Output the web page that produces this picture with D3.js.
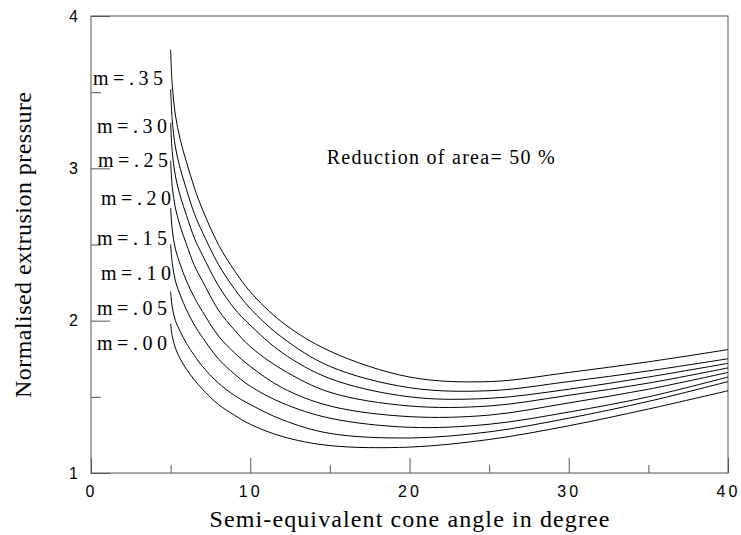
<!DOCTYPE html>
<html>
<head>
<meta charset="utf-8">
<script src="https://cdn.jsdelivr.net/npm/d3@7"></script>
<style>
  body { margin: 0; background: #fff; }
  svg { display: block; }
  .tick text { font-family: "Liberation Sans", Arial, sans-serif; font-size: 16px; fill: #000; }
  .axis path { display: none; }
  .axis line { stroke: #555; }
  .serif { font-family: "Liberation Serif", "Times New Roman", serif; fill: #000; }
</style>
</head>
<body>
<div id="chart"></div>
<script>

// semi-equivalent cone angle (deg)
var angle = [5, 5.1, 5.3, 5.6, 6, 6.5, 7, 8, 9, 10, 12, 15, 20, 25, 30, 35, 40];

// normalised extrusion pressure for each friction factor m
var p35 = [3.78, 3.55, 3.35, 3.19, 3.04, 2.87, 2.73, 2.50, 2.33, 2.19, 1.99, 1.80, 1.63, 1.60, 1.66, 1.73, 1.81];
var p30 = [3.52, 3.32, 3.14, 3.00, 2.86, 2.70, 2.58, 2.37, 2.21, 2.08, 1.89, 1.70, 1.56, 1.54, 1.60, 1.67, 1.75];
var p25 = [3.30, 3.11, 2.95, 2.82, 2.69, 2.54, 2.43, 2.23, 2.08, 1.97, 1.79, 1.62, 1.50, 1.49, 1.55, 1.63, 1.72];
var p20 = [3.05, 2.88, 2.74, 2.62, 2.50, 2.36, 2.26, 2.07, 1.94, 1.83, 1.68, 1.53, 1.44, 1.44, 1.51, 1.59, 1.69];
var p15 = [2.74, 2.60, 2.47, 2.37, 2.26, 2.15, 2.06, 1.90, 1.79, 1.70, 1.56, 1.44, 1.37, 1.38, 1.46, 1.55, 1.66];
var p10 = [2.50, 2.38, 2.26, 2.17, 2.07, 1.97, 1.89, 1.75, 1.65, 1.57, 1.46, 1.36, 1.30, 1.32, 1.40, 1.50, 1.63];
var p05 = [2.19, 2.09, 2.00, 1.93, 1.85, 1.77, 1.70, 1.59, 1.51, 1.45, 1.35, 1.26, 1.23, 1.27, 1.36, 1.47, 1.60];
var p00 = [1.98, 1.90, 1.82, 1.75, 1.68, 1.61, 1.55, 1.45, 1.38, 1.32, 1.24, 1.18, 1.17, 1.22, 1.31, 1.42, 1.54];

var series = [p35, p30, p25, p20, p15, p10, p05, p00];
var mLabels = ["m=.35", "m=.30", "m=.25", "m=.20", "m=.15", "m=.10", "m=.05", "m=.00"];
// label baselines in pressure units, read beside the curve starts
var labelY = [3.55, 3.23, 3.01, 2.76, 2.50, 2.27, 2.04, 1.81];

var xMajor = [0, 10, 20, 30, 40], xMinor = [5, 15, 25, 35];
var yMajor = [1, 2, 3, 4], yMinor = [1.5, 2.5, 3.5];

var W = 741, H = 535;
var margin = {top: 16, right: 13, bottom: 62, left: 91};
var width = W - margin.left - margin.right,
    height = H - margin.top - margin.bottom;

var svg = d3.select("#chart").append("svg")
    .attr("width", W)
    .attr("height", H);

var g = svg.append("g")
    .attr("transform", "translate(" + margin.left + "," + margin.top + ")");

var xScale = d3.scaleLinear().domain([0, 40]).range([0, width]);
var yScale = d3.scaleLinear().domain([1, 4]).range([height, 0]);

// x axis, ticks pointing inward
g.append("g")
    .attr("class", "axis")
    .attr("transform", "translate(0," + height + ")")
    .call(d3.axisBottom(xScale).tickValues(xMajor).tickSize(-15).tickPadding(13).tickFormat(d3.format("d")))
    .selectAll("text")
    .style("letter-spacing", "3px")
    .attr("dy", "0.71em");

g.append("g")
    .attr("class", "axis")
    .attr("transform", "translate(0," + height + ")")
    .call(d3.axisBottom(xScale).tickValues(xMinor).tickSize(-8).tickFormat(""));

// y axis
g.append("g")
    .attr("class", "axis")
    .call(d3.axisLeft(yScale).tickValues(yMajor).tickSize(-19).tickPadding(13).tickFormat(d3.format("d")));

g.append("g")
    .attr("class", "axis")
    .call(d3.axisLeft(yScale).tickValues(yMinor).tickSize(-10).tickFormat(""));

// frame
g.append("rect")
    .attr("width", width)
    .attr("height", height)
    .attr("fill", "none")
    .attr("stroke", "#555")
    .attr("stroke-width", 1);

var line = d3.line()
    .x(function(d, i) { return xScale(angle[i]); })
    .y(function(d) { return yScale(d); })
    .curve(d3.curveCatmullRom.alpha(0.5));

g.selectAll(".curve")
    .data(series)
    .enter().append("path")
    .attr("class", "curve")
    .attr("fill", "none")
    .attr("stroke", "#000")
    .attr("stroke-width", 1)
    .attr("d", line);

// m labels
g.selectAll(".mlabel")
    .data(mLabels)
    .enter().append("text")
    .attr("class", "mlabel serif")
    .attr("x", function(d, i) { return [2, 6, 7, 10, 6, 10, 6, 6][i]; })
    .attr("y", function(d, i) { return yScale(labelY[i]); })
    .attr("textLength", 70)
    .attr("lengthAdjust", "spacing")
    .style("font-size", "20px")
    .text(function(d) { return d; });

g.append("text")
    .attr("class", "serif")
    .attr("x", xScale(14.8))
    .attr("y", yScale(3.03))
    .attr("textLength", 228)
    .attr("lengthAdjust", "spacing")
    .style("font-size", "20px")
    .text("Reduction of area= 50 %");

// axis titles
svg.append("text")
    .attr("class", "serif")
    .attr("x", margin.left + width / 2)
    .attr("y", 527)
    .attr("text-anchor", "middle")
    .attr("textLength", 400)
    .attr("lengthAdjust", "spacing")
    .style("font-size", "24px")
    .text("Semi-equivalent cone angle in degree");

svg.append("text")
    .attr("class", "serif")
    .attr("transform", "translate(31," + (margin.top + 229) + ") rotate(-90)")
    .attr("text-anchor", "middle")
    .attr("textLength", 306)
    .attr("lengthAdjust", "spacing")
    .style("font-size", "24px")
    .text("Normalised extrusion pressure");

</script>
</body>
</html>
